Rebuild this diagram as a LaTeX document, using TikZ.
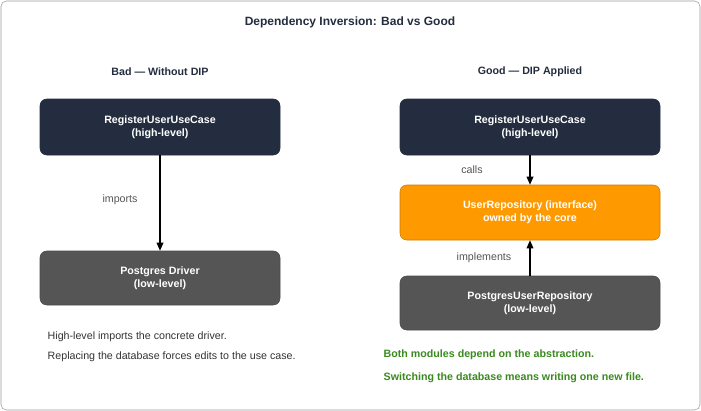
\documentclass[tikz,border=0pt]{standalone}
\usepackage{fontspec}
\setmainfont{Liberation Sans}
\usetikzlibrary{arrows.meta}
\definecolor{navy}{HTML}{232D3F}
\definecolor{slate}{HTML}{555555}
\definecolor{amber}{HTML}{FF9900}
\definecolor{leaf}{HTML}{3A8A1E}
\tikzstyle{module}=[rounded corners=5pt,minimum width=240\px,minimum height=56\px,text=white,font=\footnotesize\bfseries,align=center]
\tikzstyle{high}=[module,fill=navy,draw=navy]
\tikzstyle{low}=[module,fill=slate,draw=black!70]
\tikzstyle{core}=[module,fill=amber,draw=amber!80!black,minimum width=260\px,minimum height=55\px]
\tikzstyle{dep}=[-{Triangle[length=6pt,width=5pt]},draw=black,line width=0.9pt]
\tikzstyle{tag}=[text=slate,font=\footnotesize]
\tikzstyle{note}=[font=\footnotesize,anchor=west]
\newlength{\px}
\setlength{\px}{0.75pt}
\begin{document}
\begin{tikzpicture}[x=0.75pt,y=-0.75pt]
	\useasboundingbox (0,0) rectangle (701,411);
	\draw [rounded corners=4pt,draw=black!40,fill=white] (1,1) rectangle (700,410);
	\node [font=\small\bfseries,text=navy] (title) at (350,22) {Dependency Inversion: Bad vs Good};
	% bad side
	\node [font=\footnotesize\bfseries,text=navy] (badhead) at (160,72) {Bad — Without DIP};
	\node [style=high,minimum width=240\px] (badcase) at (160,127) {RegisterUserUseCase\\(high-level)};
	\node [style=low,minimum width=240\px,minimum height=54\px] (driver) at (160,278) {Postgres Driver\\(low-level)};
	\draw [style=dep] (badcase) to (driver);
	\node [style=tag] (imports) at (120,200) {imports};
	\node [style=note,text=black!80] (badnote1) at (43,337) {High-level imports the concrete driver.};
	\node [style=note,text=black!80] (badnote2) at (43,357) {Replacing the database forces edits to the use case.};
	% good side
	\node [font=\footnotesize\bfseries,text=navy] (goodhead) at (530,72) {Good — DIP Applied};
	\node [style=high,minimum width=260\px] (goodcase) at (530,127) {RegisterUserUseCase\\(high-level)};
	\node [style=core] (repo) at (530,212.5) {UserRepository (interface)\\owned by the core};
	\node [style=low,minimum width=260\px,minimum height=54\px] (pgrepo) at (530,303) {PostgresUserRepository\\(low-level)};
	\draw [style=dep] (goodcase) to (repo);
	\draw [style=dep] (pgrepo) to (repo);
	\node [style=tag] (calls) at (472,170) {calls};
	\node [style=tag] (implements) at (484,258) {implements};
	\node [style=note,text=leaf,font=\footnotesize\bfseries] (goodnote1) at (379,355) {Both modules depend on the abstraction.};
	\node [style=note,text=leaf,font=\footnotesize\bfseries] (goodnote2) at (379,378) {Switching the database means writing one new file.};
\end{tikzpicture}
\end{document}
